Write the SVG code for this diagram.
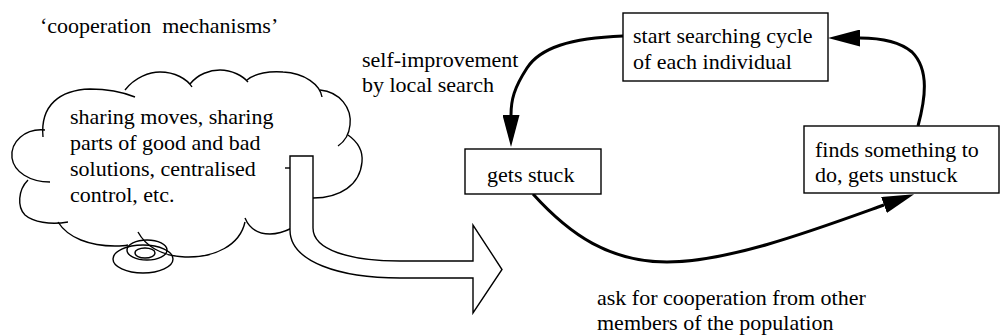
<svg xmlns="http://www.w3.org/2000/svg" width="1000" height="335" viewBox="0 0 1000 335">
<style>
text{font-family:'Liberation Serif','Times New Roman',serif;font-size:22px;fill:#000;white-space:pre}
.ol{fill:none;stroke:#000;stroke-width:1.4}
.box{fill:#fff;stroke:#000;stroke-width:1.4}
.conn{fill:none;stroke:#000;stroke-width:3}
</style>
<defs>
<marker id="ah" viewBox="0 0 32 17" refX="0" refY="8.5" markerWidth="32" markerHeight="17" markerUnits="userSpaceOnUse" orient="auto">
<path d="M0,0 L32,8.5 L0,17 Z" fill="#000"/>
</marker>
</defs>
<text x="40" y="33">‘cooperation  mechanisms’</text>
<g id="cloud">
<path class="ol" d="M43,137 C40,105 60,90 90,89 C110,89 125,93 135,97"/>
<path class="ol" d="M125,90 C135,77 150,72 160,72 C175,72 187,79 192,87"/>
<path class="ol" d="M190,84 C198,74 210,70 220,70 C232,70 243,76 248,82"/>
<path class="ol" d="M247,80 C255,73 270,71 283,72 C305,73 320,85 322,97"/>
<path class="ol" d="M320,90 C340,92 352,108 350,125 C349,135 344,142 338,146"/>
<path class="ol" d="M348,135 C358,142 363,152 362,162 C360,185 340,198 313,198"/>
<path class="ol" d="M285,168 L290,168"/>
<path class="ol" d="M245,218 C250,230 260,234 270,234 C280,234 286,231 292,228"/>
<path class="ol" d="M245,222 C240,245 215,258 185,257 C160,256 145,245 138,232"/>
<path class="ol" d="M58,222 C68,238 90,246 115,246 C120,246 124,246 128,245"/>
<path class="ol" d="M28,180 C18,190 17,207 25,215 C33,222 50,225 68,222"/>
<path class="ol" d="M45,130 C25,128 10,142 12,158 C14,172 30,182 50,182"/>
<ellipse class="ol" cx="143" cy="259" rx="30" ry="14"/>
<ellipse class="ol" cx="147" cy="250" rx="20" ry="10"/>
<ellipse class="ol" cx="145" cy="253" rx="10" ry="5"/>
<text x="70" y="124">sharing moves, sharing</text>
<text x="70" y="150">parts of good and bad</text>
<text x="70" y="176">solutions, centralised</text>
<text x="70" y="202">control, etc.</text>
</g>
<g id="big-arrow">
<path class="box" d="M290,156 L313,156 L313,228 C313,250 350,261 400,261 L473,261 L473,225 L502,269.5 L473,313 L473,278 L400,278 C340,278 290,262 290,230 Z"/>
</g>
<g id="connectors">
<path class="conn" marker-end="url(#ah)" d="M623,36 C570,38 540,48 527,68 C514,88 511,100 511,115"/>
<path class="conn" marker-end="url(#ah)" d="M918,126 C925,100 930,70 912,52 C900,42 880,38 860,38"/>
<path class="conn" marker-end="url(#ah)" d="M533,194 C570,235 610,262 667,262 C730,262 820,228 884,205"/>
</g>
<g id="start">
<rect class="box" x="623" y="13" width="205" height="68"/>
<text x="633" y="43">start searching cycle</text>
<text x="633" y="69">of each individual</text>
</g>
<g id="stuck">
<rect class="box" x="465" y="149" width="136" height="45"/>
<text x="487" y="182">gets stuck</text>
</g>
<g id="unstuck">
<rect class="box" x="804" y="126" width="195" height="67"/>
<text x="815" y="157">finds something to</text>
<text x="815" y="182">do, gets unstuck</text>
</g>
<g id="labels">
<text x="362" y="67">self-improvement</text>
<text x="362" y="92">by local search</text>
<text x="597" y="305">ask for cooperation from other</text>
<text x="597" y="330">members of the population</text>
</g>
</svg>
